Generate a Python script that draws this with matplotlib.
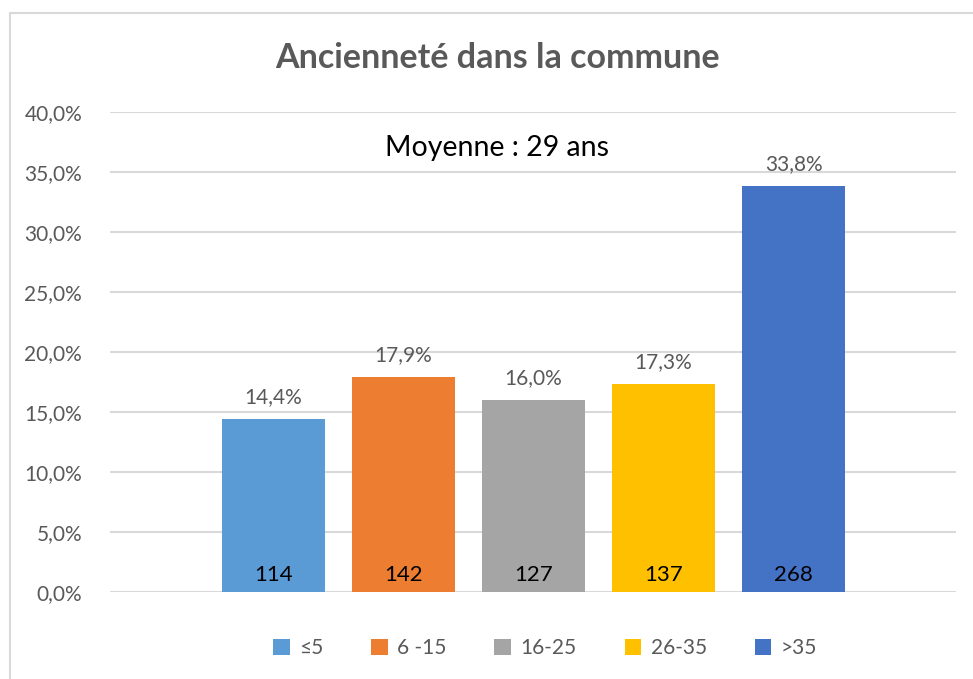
import matplotlib.pyplot as plt
from matplotlib.patches import Rectangle

plt.rcParams['font.family'] = ['Lato', 'DejaVu Sans']

# data
groups = ['≤5', '6 -15', '16-25', '26-35', '>35']
shares = [14.4, 17.9, 16.0, 17.3, 33.8]
counts = [114, 142, 127, 137, 268]
colors = ['#5B9BD5', '#ED7D31', '#A5A5A5', '#FFC000', '#4472C4']
yticks = [0, 5, 10, 15, 20, 25, 30, 35, 40]

grey = '#595959'

fig = plt.figure(figsize=(9.73, 6.79), dpi=100)
ax = fig.add_axes([110 / 973, 1 - 592 / 679, 846 / 973, 480 / 679])

# outer chart border
fig.patches.append(Rectangle((10 / 973, -0.1), 1.2, 1 - 13 / 679 + 0.1,
                             transform=fig.transFigure, fill=False,
                             edgecolor='#D9D9D9', linewidth=1.5))

for i, (g, s, n, c) in enumerate(zip(groups, shares, counts, colors)):
    ax.bar(i, s, width=0.79, color=c, label=g, zorder=3)
    ax.text(i, s + 1.0, f'{s:.1f}%'.replace('.', ','), ha='center', va='bottom',
            fontsize=15, color=grey)
    ax.text(i, 1.4, str(n), ha='center', va='center', fontsize=16, color='black', zorder=4)

ax.set_xlim(-1.258, 5.25)
ax.set_ylim(0, 40)
ax.set_yticks(yticks)
ax.set_yticklabels([f'{v:.1f}%'.replace('.', ',') for v in yticks], fontsize=15, color=grey)
ax.set_xticks([])
ax.tick_params(axis='y', length=0, pad=20)
ax.grid(axis='y', color='#D9D9D9', linewidth=1.5, zorder=0)
for sp in ax.spines.values():
    sp.set_visible(False)

ax.text(1.72, 37.0, 'Moyenne : 29 ans', ha='center', va='center', fontsize=20.5,
        color='black', zorder=5,
        bbox=dict(facecolor='white', edgecolor='none', pad=6))

fig.text(497 / 973, 1 - 58 / 679, 'Ancienneté dans la commune', ha='center', va='center',
         fontsize=24.5, fontweight='bold', color=grey)

fig.legend(loc='center', bbox_to_anchor=(545 / 973, 1 - 648 / 679), ncol=5, frameon=False,
           fontsize=15, labelcolor=grey, handlelength=0.8, handleheight=0.8,
           handletextpad=0.45, columnspacing=2.3)

fig.savefig('out.png', dpi=100)
